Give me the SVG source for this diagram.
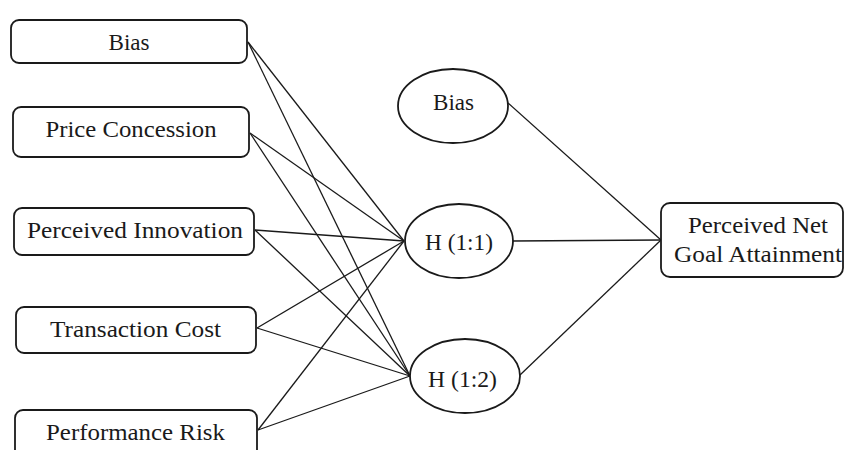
<svg xmlns="http://www.w3.org/2000/svg" width="845" height="450" viewBox="0 0 845 450">
<style>
.box{fill:#fff;stroke:#1a1a1a;stroke-width:1.8}
.lbl{font-family:"Liberation Serif","Times New Roman",serif;font-size:24px;fill:#1a1a1a;text-anchor:middle}
.cn line{stroke:#1a1a1a;stroke-width:1.3}
</style>
<rect width="845" height="450" fill="#fff"/>
<g class="cn" id="connectors">
<line x1="248" y1="42" x2="404" y2="241"/>
<line x1="248" y1="42" x2="410" y2="376"/>
<line x1="250" y1="133" x2="404" y2="241"/>
<line x1="250" y1="133" x2="410" y2="376"/>
<line x1="255" y1="230" x2="404" y2="241"/>
<line x1="255" y1="230" x2="410" y2="376"/>
<line x1="257" y1="328" x2="404" y2="241"/>
<line x1="257" y1="328" x2="410" y2="376"/>
<line x1="258" y1="430" x2="404" y2="241"/>
<line x1="258" y1="430" x2="410" y2="376"/>
<line x1="508" y1="103" x2="661" y2="240"/>
<line x1="513" y1="241" x2="661" y2="240"/>
<line x1="520" y1="375" x2="661" y2="240"/>
</g>
<g id="n-bias">
<rect class="box" x="11" y="20" width="236" height="43" rx="8"/>
<text class="lbl" x="129" y="50" textLength="41" lengthAdjust="spacingAndGlyphs">Bias</text>
</g>
<g id="n-price">
<rect class="box" x="13" y="107" width="236" height="50" rx="8"/>
<text class="lbl" x="131" y="137" textLength="171" lengthAdjust="spacingAndGlyphs">Price Concession</text>
</g>
<g id="n-innov">
<rect class="box" x="14" y="208" width="240" height="47" rx="8"/>
<text class="lbl" x="135" y="238" textLength="216" lengthAdjust="spacingAndGlyphs">Perceived Innovation</text>
</g>
<g id="n-trans">
<rect class="box" x="16" y="307" width="240" height="46" rx="8"/>
<text class="lbl" x="135.5" y="337" textLength="171" lengthAdjust="spacingAndGlyphs">Transaction Cost</text>
</g>
<g id="n-perf">
<rect class="box" x="15" y="410" width="242" height="50" rx="8"/>
<text class="lbl" x="135.5" y="440" textLength="179" lengthAdjust="spacingAndGlyphs">Performance Risk</text>
</g>
<g id="n-bias2">
<ellipse class="box" cx="453" cy="106" rx="55" ry="37"/>
<text class="lbl" x="453.5" y="110" textLength="41" lengthAdjust="spacingAndGlyphs">Bias</text>
</g>
<g id="n-h11">
<ellipse class="box" cx="459" cy="241" rx="54" ry="37"/>
<text class="lbl" x="459" y="250" textLength="68" lengthAdjust="spacingAndGlyphs">H (1:1)</text>
</g>
<g id="n-h12">
<ellipse class="box" cx="465" cy="376" rx="55" ry="37"/>
<text class="lbl" x="462.5" y="387" textLength="69" lengthAdjust="spacingAndGlyphs">H (1:2)</text>
</g>
<g id="n-pnga">
<rect class="box" x="661" y="203" width="182" height="74" rx="9"/>
<text class="lbl" x="758" y="233" textLength="140" lengthAdjust="spacingAndGlyphs">Perceived Net</text>
<text class="lbl" x="758" y="262" textLength="168" lengthAdjust="spacingAndGlyphs">Goal Attainment</text>
</g>
</svg>
